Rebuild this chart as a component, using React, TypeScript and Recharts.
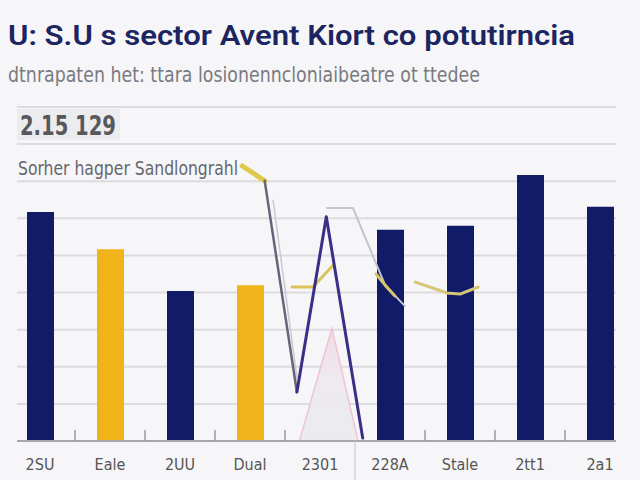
import React from "react";
import {
  ComposedChart,
  Bar,
  Line,
  Area,
  XAxis,
  YAxis,
  CartesianGrid,
} from "recharts";

// Category labels along the bottom axis
const categories = ["2SU", "Eale", "2UU", "Dual", "2301", "228A", "Stale", "2tt1", "2a1"];

// Bar values (null where a category has no bar of that colour)
const navyValues = [61.7, null, 40.4, null, null, 56.9, 58.0, 71.7, 63.1];
const goldValues = [null, 51.7, null, 42.0, null, null, null, null, null];

// Line series: x is a position in category units (0 = first category centre)
const goldStartX = [2.89, 3.21];
const goldStartY = [74.1, 70.1];
const grayDropX = [3.21, 3.67];
const grayDropY = [70.1, 13.2];
const purpleX = [3.67, 4.09, 4.61];
const purpleY = [13.2, 60.4, 0.8];
const goldMidX = [3.6, 3.9, 4.19];
const goldMidY = [41.5, 41.5, 47.4];
const paleDropX = [3.33, 3.67];
const paleDropY = [64.9, 17.0];
const paleStepX = [4.1, 4.47, 4.93, 5.21];
const paleStepY = [62.8, 62.8, 42.0, 36.4];
const goldTailX = [4.8, 4.93, 5.07];
const goldTailY = [45.0, 42.0, 39.1];
const goldWaveX = [5.36, 5.57, 5.81, 6.0, 6.26];
const goldWaveY = [42.8, 41.5, 39.9, 39.6, 41.5];
const peakX = [3.71, 4.17, 4.54];
const peakY = [0.3, 30.4, 0.3];

// Axis tick values
const yTicks = [0, 10, 20, 30, 40, 50, 60, 70, 80, 90];

const title = "U: S.U s sector  Avent Kiort co potutirncia";
const subtitle = "dtnrapaten het: ttara losionenncloniaibeatre ot ttedee";
const badge = "2.15 129";
const note = "Sorher hagper Sandlongrahl";

const W = 640;
const H = 480;
const MARGIN = { top: 107, right: 24, bottom: 0, left: 17 };
const PAD = { left: -12, right: -19 };
const AXIS_H = 39;
const BAND =
  (W - MARGIN.left - MARGIN.right - PAD.left - PAD.right) / categories.length;

const NAVY = "#121b68";
const GOLD = "#f1b31a";
const BG = "#f6f6f8";
const GRID = "#dcdcdf";
const LABEL_FONT = "'Liberation Sans Narrow', 'DejaVu Sans Condensed', 'Liberation Sans', sans-serif";

const rows = categories.map((c, i) => ({
  name: c,
  navy: navyValues[i],
  gold: goldValues[i],
}));

const zip = (xs: number[], ys: number[]) => xs.map((x, i) => ({ x, y: ys[i] }));

function CategoryTick(props: any) {
  const { x, y, payload, index } = props;
  const half = BAND / 2;
  return (
    <g>
      <text
        x={x}
        y={y + 29}
        textAnchor="middle"
        fontSize={16}
        fill="#555"
        fontFamily={LABEL_FONT}
      >
        {payload.value}
      </text>
      {index < categories.length - 1 && index !== 4 && (
        <line x1={x + half} x2={x + half} y1={y - 11} y2={y} stroke="#9a9a9e" strokeWidth={1.5} />
      )}
      {index === 4 && (
        <line x1={x + half} x2={x + half} y1={y} y2={y + AXIS_H} stroke="#cfcfd3" strokeWidth={1.2} />
      )}
    </g>
  );
}

const HiddenTick = () => <g />;

const lineProps = {
  xAxisId: "pos",
  dataKey: "y",
  dot: false,
  activeDot: false,
  isAnimationActive: false,
  strokeLinecap: "round" as const,
  strokeLinejoin: "round" as const,
  type: "linear" as const,
};

export default function App() {
  return (
    <div
      style={{
        position: "fixed",
        left: 0,
        top: 0,
        width: W,
        height: H,
        background: BG,
        overflow: "hidden",
      }}
    >
      <ComposedChart
        width={W}
        height={H}
        data={rows}
        margin={MARGIN}
        style={{ position: "absolute", left: 0, top: 0 }}
      >
        <defs>
          <linearGradient id="peakFill" x1="0" y1="0" x2="0" y2="1">
            <stop offset="0%" stopColor="#f3dbe4" />
            <stop offset="45%" stopColor="#eeeaee" />
            <stop offset="100%" stopColor="#ebebed" />
          </linearGradient>
        </defs>
        <CartesianGrid vertical={false} stroke={GRID} strokeWidth={2} />
        <XAxis
          dataKey="name"
          height={AXIS_H}
          padding={PAD}
          tickLine={false}
          tickSize={0}
          tickMargin={0}
          axisLine={{ stroke: "#a8a8ac", strokeWidth: 2 }}
          tick={<CategoryTick />}
          interval={0}
        />
        <XAxis
          xAxisId="pos"
          type="number"
          dataKey="x"
          domain={[-0.5, 8.5]}
          padding={PAD}
          allowDataOverflow
          hide
        />
        <YAxis
          domain={[0, 90]}
          ticks={yTicks}
          interval={0}
          width={0}
          tick={<HiddenTick />}
          tickLine={false}
          axisLine={{ stroke: "#e2e2e6", strokeWidth: 1.5 }}
        />
        <Area
          xAxisId="pos"
          data={zip(peakX, peakY)}
          dataKey="y"
          type="linear"
          stroke="#f0c3d4"
          strokeWidth={1.5}
          fill="url(#peakFill)"
          fillOpacity={1}
          dot={false}
          activeDot={false}
          isAnimationActive={false}
        />
        <Bar dataKey="navy" stackId="b" fill={NAVY} barSize={27} isAnimationActive={false} />
        <Bar dataKey="gold" stackId="b" fill={GOLD} barSize={27} isAnimationActive={false} />
        <Line {...lineProps} data={zip(paleDropX, paleDropY)} stroke="#c9c9d1" strokeWidth={1.5} />
        <Line {...lineProps} data={zip(paleStepX, paleStepY)} stroke="#c4c4cc" strokeWidth={2} />
        <Line {...lineProps} data={zip(goldTailX, goldTailY)} stroke="#d8c46a" strokeWidth={3} />
        <Line {...lineProps} data={zip(goldStartX, goldStartY)} stroke="#e0c84a" strokeWidth={5} />
        <Line {...lineProps} data={zip(grayDropX, grayDropY)} stroke="#66647a" strokeWidth={2.5} />
        <Line {...lineProps} data={zip(goldMidX, goldMidY)} stroke="#d9c35a" strokeWidth={3} />
        <Line {...lineProps} data={zip(purpleX, purpleY)} stroke="#3a2f86" strokeWidth={3} />
        <Line {...lineProps} data={zip(goldWaveX, goldWaveY)} stroke="#d8c678" strokeWidth={3} />
      </ComposedChart>

      <svg
        width={W}
        height={H}
        style={{ position: "absolute", left: 0, top: 0, pointerEvents: "none" }}
      >
        <text
          x={8}
          y={45}
          fontSize={28}
          fontWeight={600}
          fill="#1c2561"
          fontFamily="Roboto, 'Liberation Sans', sans-serif"
          textLength={567}
          lengthAdjust="spacingAndGlyphs"
        >
          {title}
        </text>
        <text
          x={8}
          y={82}
          fontSize={21}
          fill="#7a7a80"
          fontFamily={LABEL_FONT}
          textLength={472}
          lengthAdjust="spacingAndGlyphs"
        >
          {subtitle}
        </text>
        <rect x={17} y={109} width={103} height={31} fill="#ececee" />
        <text
          x={20}
          y={135}
          fontSize={27}
          fontWeight={700}
          fill="#58585c"
          fontFamily={LABEL_FONT}
          textLength={96}
          lengthAdjust="spacingAndGlyphs"
        >
          {badge}
        </text>
        <rect x={17} y={150} width={222} height={30} fill={BG} />
        <text
          x={18}
          y={175}
          fontSize={20}
          fill="#66666b"
          fontFamily={LABEL_FONT}
          textLength={220}
          lengthAdjust="spacingAndGlyphs"
        >
          {note}
        </text>
      </svg>
    </div>
  );
}
